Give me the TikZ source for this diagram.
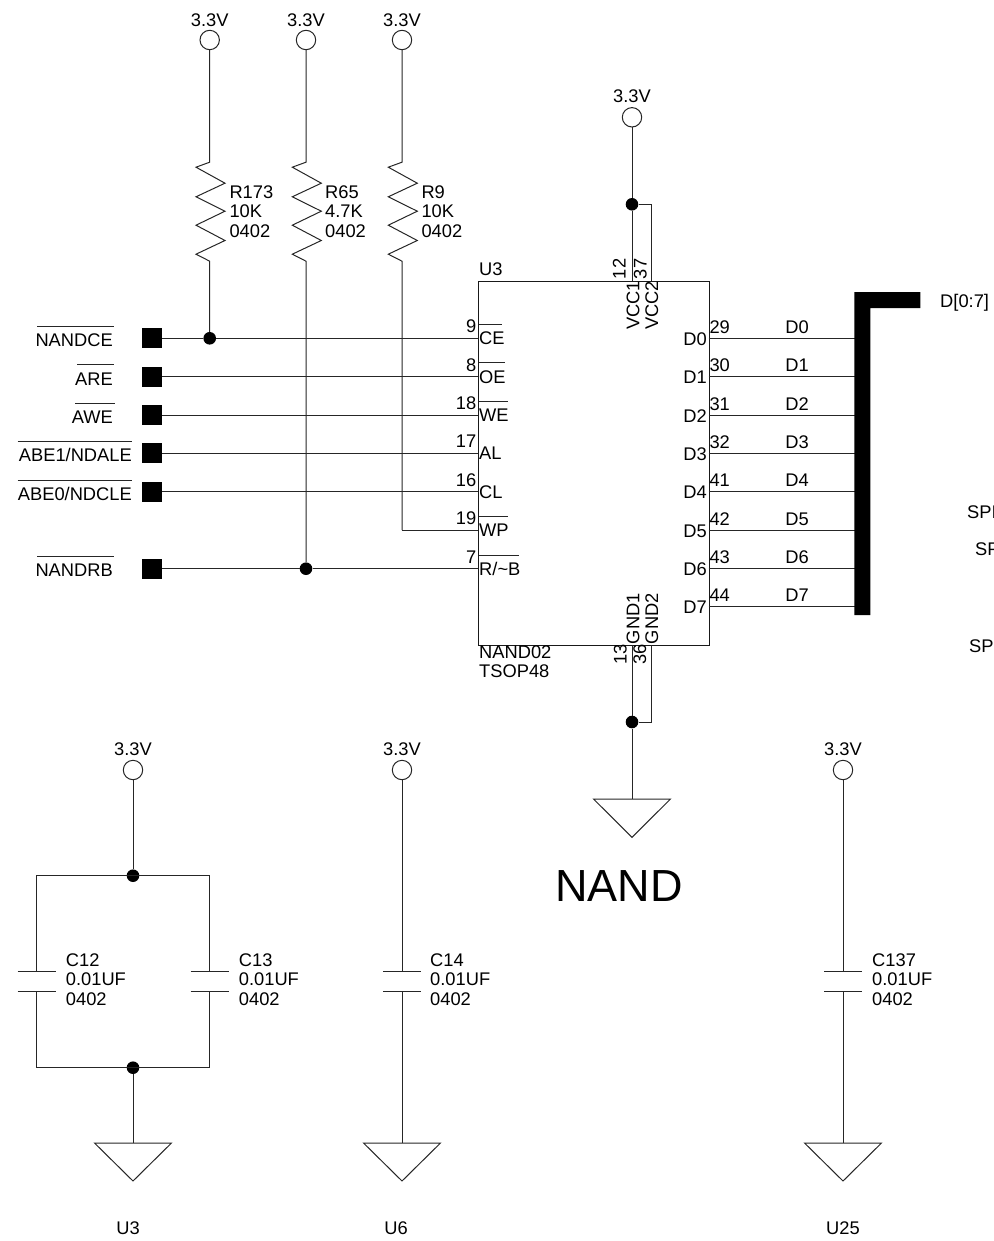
\documentclass[tikz,border=0pt]{standalone}
\usepackage{fontspec}
\setmainfont{Liberation Sans}
\tikzset{
  wire/.style={line width=1pt,black!85},
  via/.style={circle,draw=black!85,line width=1pt,fill=white,minimum size=19.4pt,inner sep=0pt},
  dotj/.style={circle,fill=black,minimum size=12.6pt,inner sep=0pt},
  pad/.style={rectangle,fill=black,minimum size=20pt,inner sep=0pt},
  lw/.style={inner sep=0pt,anchor=base west},
  le/.style={inner sep=0pt,anchor=base east},
  lc/.style={inner sep=0pt,anchor=base},
  up/.style={inner sep=0pt,anchor=base west,rotate=90},
  gndtri/.style={wire,line join=miter},
}
% resistor: from the bottom of via #1 down to the junction or corner #2
\newcommand{\reszig}[2]{%
  \draw[wire,line join=miter] (#1.south) -- ++(0,112) -- ++(-13.7,5) -- ++(29,16) -- ++(-29,13.6)
    -- ++(29,14.4) -- ++(-29,14) -- ++(29,15.3) -- ++(-29,13.7) -- ++(13.7,7) -- (#2);}
% capacitor with plates at fixed heights on the vertical through coordinate #1
\newcommand{\capplates}[1]{%
  \draw[wire] ([xshift=-19pt]#1) -- ([xshift=19pt]#1);
  \draw[wire] ([xshift=-19pt,yshift=-19.3pt]#1) -- ([xshift=19pt,yshift=-19.3pt]#1);}
\newcommand{\threelines}[4]{%
  \node[lw] (#1a) at (#2,966) {#3};
  \node[lw] (#1b) at (#2,985.3) {#4};
  \node[lw] (#1c) at (#2,1005) {0402};}
\newcommand{\rlabel}[4]{%
  \node[lw] (#1a) at (#2,198.3) {#3};
  \node[lw] (#1b) at (#2,218) {#4};
  \node[lw] (#1c) at (#2,237) {0402};}
\begin{document}
\begin{tikzpicture}[x=1pt,y=-1pt,font=\fontsize{18.3}{20}\selectfont]
\useasboundingbox (0,0) rectangle (993,1241);
\clip (0,0) rectangle (993,1241);

% ---- IC
\node[rectangle,draw=black!90,line width=1pt,inner sep=0pt,minimum width=230.4pt,minimum height=364.6pt,anchor=north west] (ic) at (478.3,280.7) {};

% ---- pull-up vias and supply labels
\foreach \n/\x/\y/\ty in {va/209.7/40/26.7,vb/306/40/26.7,vc/402/40/26.7,vd/632/117.3/102.3,ve/133/770/755,vf/402/770/755,vg/843/770/755}{
  \node[via] (\n) at (\x,\y) {};
  \node[lc] (\n t) at (\x,\ty) {3.3V};
}

% ---- left side pads and pin coordinates
\node[pad] (p1) at (152,338.3) {};
\node[pad] (p2) at (152,376.7) {};
\node[pad] (p3) at (152,415) {};
\node[pad] (p4) at (152,453.3) {};
\node[pad] (p5) at (152,491.7) {};
\node[pad] (p7) at (152,568.7) {};
\foreach \n/\y in {1/338.3,2/376.7,3/415,4/453.3,5/491.7,6/530,7/568.7}{
  \coordinate (L\n) at (478.3,\y);
}
\foreach \n/\y/\lab/\num/\txt in {0/338.3/D0/29/D0,1/376.7/D1/30/D1,2/415/D2/31/D2,3/453.3/D3/32/D3,4/491.7/D4/41/D4,5/530/D5/42/D5,6/568.7/D6/43/D6,7/606.7/D7/44/D7}{
  \coordinate (R\n) at (708.7,\y);
  \coordinate (B\n) at (855,\y);
  \draw[wire] (R\n) -- (B\n);
  \node[le] (rn\n) at (707,\y+7) {\lab};
  \node[lw] (rp\n) at (709.3,\y-5) {\num};
  \node[lc] (rt\n) at (797,\y-5) {\txt};
}

% ---- junctions
\node[dotj] (j1) at (209.7,338.3) {};
\node[dotj] (j2) at (306,568.7) {};
\coordinate (c9) at (402,530);
\node[dotj] (j3) at (632,204.3) {};
\node[dotj] (j4) at (632,722) {};
\node[dotj] (j5) at (133,875.7) {};
\node[dotj] (j6) at (133,1067.7) {};

% ---- left nets
\draw[wire] (p1) -- (j1) -- (L1);
\draw[wire] (p2) -- (L2);
\draw[wire] (p3) -- (L3);
\draw[wire] (p4) -- (L4);
\draw[wire] (p5) -- (L5);
\draw[wire] (p7) -- (j2) -- (L7);
\draw[wire] (c9) -- (L6);

% ---- pull-up resistors
\reszig{va}{j1}
\reszig{vb}{j2}
\reszig{vc}{c9}
\rlabel{ra}{229.3}{R173}{10K}
\rlabel{rb}{325}{R65}{4.7K}
\rlabel{rc}{421.3}{R9}{10K}

% ---- signal names
\node[le] (s1) at (113,346.5) {NANDCE};
\node[le] (s2) at (113,385) {ARE};
\node[le] (s3) at (113,423.5) {AWE};
\node[le] (s4) at (132,461.5) {ABE1/NDALE};
\node[le] (s5) at (132,500) {ABE0/NDCLE};
\node[le] (s7) at (113,576.5) {NANDRB};
\draw[wire,line width=.9pt] (37,326) -- (114,326);
\draw[wire,line width=.9pt] (77,364.5) -- (114,364.5);
\draw[wire,line width=.9pt] (75,403) -- (115,403);
\draw[wire,line width=.9pt] (17.5,441.5) -- (132,441.5);
\draw[wire,line width=.9pt] (17.5,480) -- (132,480);
\draw[wire,line width=.9pt] (37,556.5) -- (114,556.5);

% ---- left pins of the IC
\foreach \n/\y/\num/\txt in {1/338.3/9/CE,2/376.7/8/OE,3/415/18/WE,4/453.3/17/AL,5/491.7/16/CL,6/530/19/WP,7/568.7/7/{R/\string~B}}{
  \node[lw] (ln\n) at (479,\y+6.5) {\txt};
  \node[le] (lp\n) at (476.5,\y-5.5) {\num};
}
\draw[wire,line width=.9pt] (479,324.3) -- (502,324.3);
\draw[wire,line width=.9pt] (479,362.7) -- (505,362.7);
\draw[wire,line width=.9pt] (479,401) -- (507.7,401);
\draw[wire,line width=.9pt] (479,516.7) -- (507.7,516.7);
\draw[wire,line width=.9pt] (479,555) -- (518.5,555);

% ---- IC texts
\node[lw] (u3) at (479,275) {U3};
\node[lw] (nm) at (479,658.3) {NAND02};
\node[lw] (pk) at (479,677.7) {TSOP48};
\node[up] (vcc1) at (639.3,330) {VCC1};
\node[up] (vcc2) at (658,330) {VCC2};
\node[up] (n12) at (625.7,279.3) {12};
\node[up] (n37) at (646.7,279.3) {37};
\node[up] (gnd1) at (639.3,644.3) {GND1};
\node[up] (gnd2) at (658,644.3) {GND2};
\node[up] (n13) at (626.7,665) {13};
\node[up] (n36) at (646,665) {36};

% ---- supply and ground of the IC
\coordinate (vt1) at (632,280.7);
\coordinate (vt2) at (651,280.7);
\coordinate (vs) at (651,204.3);
\coordinate (gt1) at (632,645.3);
\coordinate (gt2) at (651,645.3);
\coordinate (gs) at (651,722);
\draw[wire] (vd) -- (j3) -- (vt1);
\draw[wire] (j3) -- (vs) -- (vt2);
\draw[wire] (gt1) -- (j4);
\draw[wire] (gt2) -- (gs) -- (j4);
\coordinate (g1) at (632,799);
\draw[wire] (j4) -- (g1);
\draw[gndtri] (593.5,799) -- (670.5,799) -- (632,837.3) -- cycle;

% ---- data bus
\fill[black] (854.3,292) -- (920.3,292) -- (920.3,308) -- (870.3,308) -- (870.3,615) -- (854.3,615) -- cycle;
\node[lw] (bus) at (940,307.5) {D[0:7]};

% ---- clipped labels at the right edge
\node[lw] (sp1) at (967,518.5) {SPI};
\node[lw] (sp2) at (975,555) {SP};
\node[lw] (sp3) at (969,652) {SP};

% ---- big title
\node[lw,font=\fontsize{45}{48}\selectfont] (title) at (555,901) {NAND};

% ---- decoupling group U3
\coordinate (ca) at (36.7,971.7);
\coordinate (cb) at (209.7,971.7);
\coordinate (ca2) at (36.7,991);
\coordinate (cb2) at (209.7,991);
\coordinate (tl) at (36.7,875.7);
\coordinate (tr) at (209.7,875.7);
\coordinate (bl) at (36.7,1067.7);
\coordinate (br) at (209.7,1067.7);
\draw[wire] (ve) -- (j5);
\draw[wire] (ca) -- (tl) -- (tr) -- (cb);
\draw[wire] (ca2) -- (bl) -- (br) -- (cb2);
\capplates{ca}
\capplates{cb}
\threelines{c12}{65.7}{C12}{0.01UF}
\threelines{c13}{238.7}{C13}{0.01UF}
\coordinate (g2) at (133,1143);
\draw[wire] (j6) -- (g2);
\draw[gndtri] (94.5,1143) -- (171.5,1143) -- (133,1181) -- cycle;
\node[lc] (lu3) at (128,1234) {U3};

% ---- decoupling U6
\coordinate (cc) at (402,971.7);
\coordinate (cc2) at (402,991);
\coordinate (g3) at (402,1143);
\draw[wire] (vf) -- (cc);
\draw[wire] (cc2) -- (g3);
\capplates{cc}
\threelines{c14}{430}{C14}{0.01UF}
\draw[gndtri] (363.5,1143) -- (440.5,1143) -- (402,1181) -- cycle;
\node[lc] (lu6) at (396,1234) {U6};

% ---- decoupling U25
\coordinate (cd) at (843,971.7);
\coordinate (cd2) at (843,991);
\coordinate (g4) at (843,1143);
\draw[wire] (vg) -- (cd);
\draw[wire] (cd2) -- (g4);
\capplates{cd}
\threelines{c137}{872}{C137}{0.01UF}
\draw[gndtri] (804.5,1143) -- (881.5,1143) -- (843,1181) -- cycle;
\node[lc] (lu25) at (843,1234) {U25};
\end{tikzpicture}
\end{document}
